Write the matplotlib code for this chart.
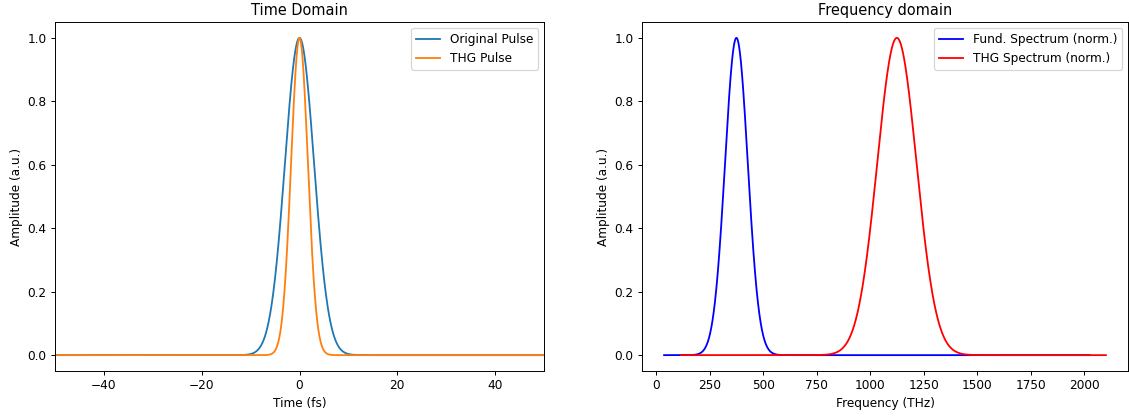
import numpy as np
import matplotlib
matplotlib.use('Agg')
import matplotlib.pyplot as plt
from matplotlib.ticker import MultipleLocator

# values
time_range_fs = [-50, 50]
pulse_center_fs = 0.0
pulse_fwhm_fs = 7.0            # amplitude FWHM of the original pulse
harmonic_order = 3             # THG pulse = original ** 3

fund_center_thz = 375.0
fund_fwhm_thz = 125.0
thg_center_thz = 1125.0
thg_fwhm_thz = 216.0
fund_freq_range = [37, 2025]
thg_freq_range = [115, 2102]
freq_tick_step = 250

labels_time = ['Original Pulse', 'THG Pulse']
labels_freq = ['Fund. Spectrum (norm.)', 'THG Spectrum (norm.)']


def gauss(x, x0, fwhm):
    return np.exp(-4 * np.log(2) * (x - x0) ** 2 / fwhm ** 2)


t = np.linspace(time_range_fs[0], time_range_fs[1], 2001)
pulse = gauss(t, pulse_center_fs, pulse_fwhm_fs)
thg_pulse = pulse ** harmonic_order

f_fund = np.linspace(fund_freq_range[0], fund_freq_range[1], 3000)
f_thg = np.linspace(thg_freq_range[0], thg_freq_range[1], 3000)
spec_fund = gauss(f_fund, fund_center_thz, fund_fwhm_thz)
spec_thg = gauss(f_thg, thg_center_thz, thg_fwhm_thz)

dpi = 87
W, H = 1129, 417
fig = plt.figure(figsize=(W / dpi, H / dpi), dpi=dpi)

ax1 = fig.add_axes([55 / W, 1 - 371 / H, (544 - 55) / W, (371 - 22) / H])
ax1.plot(t, pulse, label=labels_time[0])
ax1.plot(t, thg_pulse, label=labels_time[1])
ax1.set_xlim(time_range_fs)
ax1.set_xlabel('Time (fs)')
ax1.set_ylabel('Amplitude (a.u.)')
ax1.set_title('Time Domain')
ax1.legend(loc='upper right')

ax2 = fig.add_axes([642 / W, 1 - 371 / H, (1128 - 642) / W, (371 - 22) / H])
ax2.plot(f_fund, spec_fund, 'b', label=labels_freq[0])
ax2.plot(f_thg, spec_thg, 'r', label=labels_freq[1])
ax2.xaxis.set_major_locator(MultipleLocator(freq_tick_step))
ax2.set_xlabel('Frequency (THz)')
ax2.set_ylabel('Amplitude (a.u.)')
ax2.set_title('Frequency domain')
ax2.legend(loc='upper right')

fig.savefig('out.png', dpi=dpi)
